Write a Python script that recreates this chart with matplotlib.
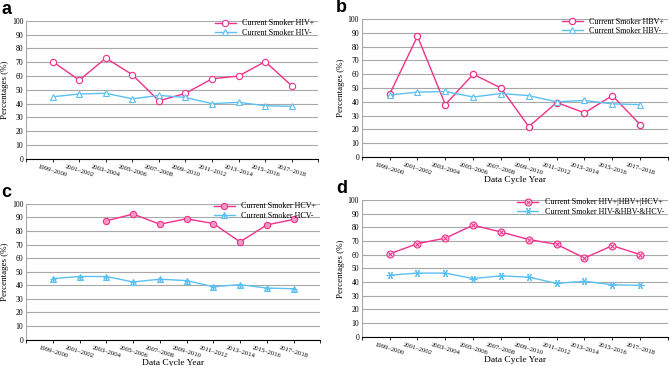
import numpy as np
import matplotlib
matplotlib.use("Agg")
import matplotlib.pyplot as plt
from matplotlib.legend_handler import HandlerTuple

plt.rcParams['font.family'] = ['Liberation Serif', 'DejaVu Serif']

cycles = ['1999–2000', '2001–2002', '2003–2004', '2005–2006', '2007–2008',
          '2009–2010', '2011–2012', '2013–2014', '2015–2016', '2017–2018']

hiv_pos = [70.5, 57, 73, 61, 42, 47.5, 58, 60, 70.5, 53]
hiv_neg = [45, 47, 47.5, 43.5, 46, 44.5, 40, 41, 38.5, 38]
hbv_pos = [45.5, 87.5, 38, 60, 50, 22, 39.5, 32, 44.5, 23.5]
hbv_neg = [45, 47, 47.5, 43.5, 46, 44.5, 40, 41, 38.5, 38]
hcv_pos = [np.nan, np.nan, 87.5, 92.5, 85, 89, 85.5, 72, 84.5, 88.5]
hcv_neg = [45, 46.5, 46.5, 42.5, 44.5, 43.5, 39, 40.5, 38, 37.5]
any_pos = [60.5, 68, 72, 81.5, 76.5, 71, 67.5, 57.5, 66.5, 60]
all_neg = [45, 46.5, 46.5, 42.5, 44.5, 43.5, 39, 40.5, 38, 37.5]

PINK = '#f0308a'
BLUE = '#5cc0f2'

fig = plt.figure(figsize=(6.7, 3.66), dpi=100)
boxes = [(0.039, 0.566, 0.436, 0.377), (0.540, 0.571, 0.457, 0.377),
         (0.039, 0.072, 0.439, 0.371), (0.540, 0.080, 0.457, 0.374)]
x = np.arange(1, len(cycles) + 1)


def setup(ax, letter, show_xlabel=True):
    ax.set_xlim(0, 11)
    ax.set_ylim(0, 100)
    ax.set_yticks(range(0, 101, 10))
    ax.set_xticks(range(0, 12))
    ax.set_xticklabels([''] + cycles + [''], rotation=-17, ha='center',
                       fontsize=4.8)
    ax.tick_params(axis='y', length=0, labelsize=5.5, pad=2)
    ax.tick_params(axis='x', direction='out', length=2.5, width=0.6, pad=1.5)
    ax.grid(axis='y', color='#a8a8a8', linewidth=0.8)
    ax.set_axisbelow(True)
    for s in ['top', 'right']:
        ax.spines[s].set_visible(False)
    ax.spines['left'].set_color('#a8a8a8')
    ax.spines['bottom'].set_linewidth(0.8)
    ax.set_ylabel('Percentages (%)', fontsize=6.5, labelpad=2)
    if show_xlabel:
        ax.set_xlabel('Data Cycle Year', fontsize=6.8, labelpad=0)
    ax.text(-0.085, 1.02, letter, transform=ax.transAxes, fontsize=13,
            fontweight='bold', family='Liberation Sans', va='bottom', ha='left')


def legend(ax, handles, labels):
    ax.legend(handles, labels, loc='upper right', frameon=False, fontsize=5.8,
              borderaxespad=0.1, handlelength=2.6, labelspacing=0.2,
              bbox_to_anchor=(1.0, 1.04),
              handler_map={tuple: HandlerTuple(ndivide=1)})


# panel a
ax = fig.add_axes(boxes[0])
setup(ax, 'a', show_xlabel=False)
l1, = ax.plot(x, hiv_pos, color=PINK, lw=1, marker='o', ms=4.5, mfc='white', mew=0.8)
l2, = ax.plot(x, hiv_neg, color=BLUE, lw=1, marker='^', ms=4.5, mfc='white', mew=0.8)
legend(ax, [l1, l2], ['Current Smoker HIV+', 'Current Smoker HIV-'])

# panel b
ax = fig.add_axes(boxes[1])
setup(ax, 'b')
l1, = ax.plot(x, hbv_pos, color=PINK, lw=1, marker='o', ms=4.5, mfc='white', mew=0.9)
l2, = ax.plot(x, hbv_neg, color=BLUE, lw=1, marker='^', ms=4.5, mfc='white', mew=0.8)
legend(ax, [l1, l2], ['Current Smoker HBV+', 'Current Smoker HBV-'])

# panel c
ax = fig.add_axes(boxes[2])
setup(ax, 'c')
l1, = ax.plot(x, hcv_pos, color=PINK, lw=1, marker='o', ms=4.5, mfc='#f59ac4', mew=0.8)
l2, = ax.plot(x, hcv_neg, color=BLUE, lw=1, marker='^', ms=5, mfc='#a8dcf7', mew=0.8)
l2b, = ax.plot(x, hcv_neg, ls='none', color=BLUE, marker='+', ms=4, mew=0.7)
legend(ax, [l1, (l2, l2b)], ['Current Smoker HCV+', 'Current Smoker HCV-'])

# panel d
ax = fig.add_axes(boxes[3])
setup(ax, 'd')
l1, = ax.plot(x, any_pos, color=PINK, lw=1, marker='o', ms=5, mfc='#fbd0e4', mew=0.8)
l1b, = ax.plot(x, any_pos, ls='none', color=PINK, marker='x', ms=3.2, mew=0.7)
l2, = ax.plot(x, all_neg, color=BLUE, lw=1, marker=(6, 2, 90), ms=5.5, mew=0.8)
legend(ax, [(l1, l1b), l2],
       ['Current Smoker HIV+|HBV+|HCV+', 'Current Smoker HIV-&HBV-&HCV-'])

fig.savefig('out.png', dpi=100)
